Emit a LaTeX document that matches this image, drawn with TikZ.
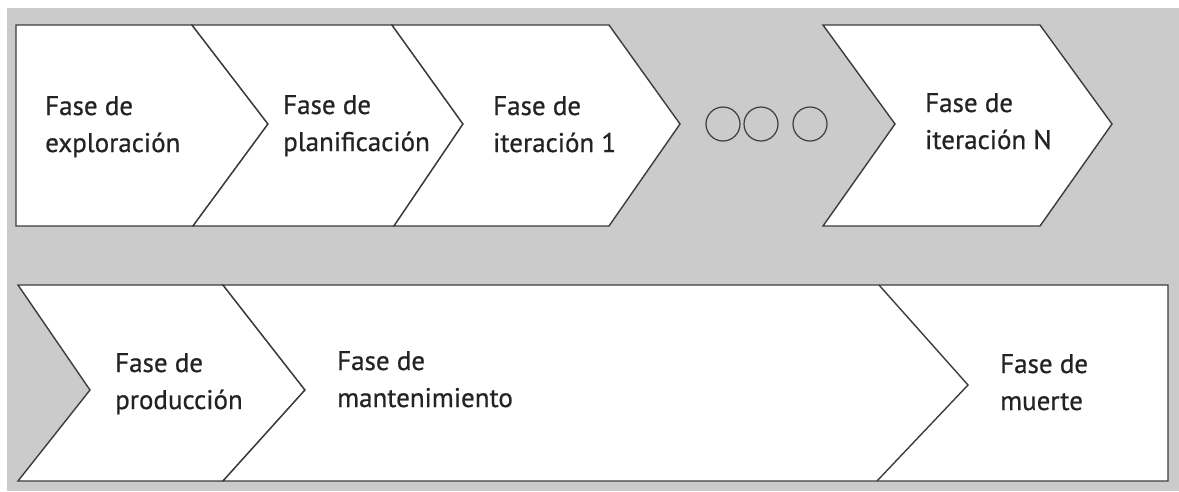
\documentclass[tikz,border=0pt]{standalone}
\usepackage{fontspec}
\setmainfont{PT Sans}
\newfontfamily\lblfont{PT Sans}[FakeBold=0.6]
\definecolor{bggray}{RGB}{203,203,203}
\definecolor{edge}{RGB}{60,60,60}
\definecolor{txt}{RGB}{35,35,35}
\begin{document}
\begin{tikzpicture}[x=1pt,y=-1pt,
  shapebox/.style={draw=edge,fill=white,line width=1.4pt,line join=miter},
  lbl/.style={anchor=base west,inner sep=0pt,align=left,text=txt,
    font=\lblfont\fontsize{27}{37}\selectfont},
  dot/.style={draw=edge,line width=1.2pt,circle,minimum size=34pt,inner sep=0pt}]
\useasboundingbox (0,0) rectangle (1179,491);
\fill[white] (0,0) rectangle (1179,491);
\fill[bggray] (7,8) rectangle (1179,491);
% top row
\draw[shapebox] (16,25) -- (192,25) -- (268,124) -- (193,226) -- (16,226) -- cycle;
\draw[shapebox] (192,25) -- (392,25) -- (463,124) -- (394,226) -- (193,226) -- (268,124) -- cycle;
\draw[shapebox] (392,25) -- (609,25) -- (680,124) -- (609,226) -- (394,226) -- (463,124) -- cycle;
\node[dot] (c1) at (723,124) {};
\node[dot] (c2) at (761,124) {};
\node[dot] (c3) at (810,124) {};
\draw[shapebox] (823,25) -- (1040,25) -- (1112,124) -- (1040,226) -- (823,226) -- (895,124) -- cycle;
% bottom row
\draw[shapebox] (18,285) -- (223,285) -- (305,390) -- (223,481) -- (18,481) -- (90,390) -- cycle;
\draw[shapebox] (223,285) -- (1168,285) -- (1168,481) -- (223,481) -- (305,390) -- cycle;
\draw[edge,line width=1.4pt] (879,285) -- (968,385) -- (877,481);
% labels (anchor at baseline of the last line)
\node[lbl] (t1) at (45,152) {Fase de\\exploración};
\node[lbl] (t2) at (283,151) {Fase de\\planificación};
\node[lbl] (t3) at (493,152) {Fase de\\iteración 1};
\node[lbl] (tn) at (925,149) {Fase de\\iteración N};
\node[lbl] (b1) at (115,409) {Fase de\\producción};
\node[lbl] (b2) at (337,407) {Fase de\\mantenimiento};
\node[lbl] (b3) at (1000,410) {Fase de\\muerte};
\end{tikzpicture}
\end{document}
